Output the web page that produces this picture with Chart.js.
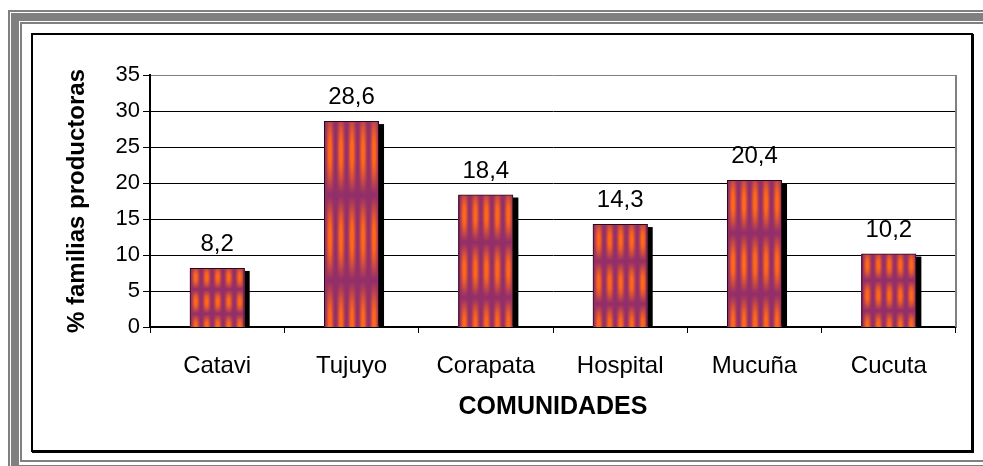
<!DOCTYPE html>
<html>
<head>
<meta charset="utf-8">
<script src="https://cdn.jsdelivr.net/npm/chart.js@4/dist/chart.umd.min.js"></script>
<style>
  html, body { margin: 0; padding: 0; background: #fff; width: 983px; height: 466px; overflow: hidden; }
  .ring { position: absolute; box-sizing: border-box; border-style: solid; border-color: #808080; }
  #r1 { left: 8px;  top: 10px; width: 1200px; height: 466px; border-width: 2px; }
  #r3 { left: 11px; top: 13px; width: 1200px; height: 460px; border-width: 8px; }
  #r5 { left: 20px; top: 22px; width: 1200px; height: 440px; border-width: 2px; }
  #box { position: absolute; left: 31px; top: 33px; width: 942px; height: 419px;
         box-sizing: border-box; border: 2px solid #000; box-shadow: 1px 1px 0 #000; background: #fff; }
  #chart { position: absolute; left: 0; top: 0; }
</style>
</head>
<body>
<div class="ring" id="r1"></div>
<div class="ring" id="r3"></div>
<div class="ring" id="r5"></div>
<div id="box"></div>
<canvas id="chart" width="983" height="466"></canvas>
<script>
// Communities and share of producing families (%)
const categories = ['Catavi', 'Tujuyo', 'Corapata', 'Hospital', 'Mucuña', 'Cucuta'];
const productoras = [8.2, 28.6, 18.4, 14.3, 20.4, 10.2];
const yTicks = [0, 5, 10, 15, 20, 25, 30, 35];

const FONT = "'Liberation Sans', Arial, sans-serif";
const PURPLE = [146, 46, 106];
const ORANGE = [255, 104, 26];

const fmt = v => v.toFixed(1).replace('.', ',');

// Striped orange/purple texture rendered to the size of one bar
function makeTexture(w, h) {
  const c = document.createElement('canvas');
  c.width = Math.max(1, Math.round(w));
  c.height = Math.max(1, Math.round(h));
  const g = c.getContext('2d');
  const img = g.createImageData(c.width, c.height);
  const stripes = 5, periods = 2.4, first = 0.15;
  for (let y = 0; y < c.height; y++) {
    const yn = y / c.height;
    const vy = 0.5 + 0.5 * Math.cos(2 * Math.PI * (yn - first) * periods);
    for (let x = 0; x < c.width; x++) {
      const f = (x / c.width * stripes) % 1;
      const hx = Math.pow(Math.max(0, Math.cos(Math.PI * (f - 0.5))), 2.2);
      let t = hx * Math.pow(vy, 0.55);
      t = Math.min(1, t * 1.1);
      const i = (y * c.width + x) * 4;
      img.data[i]     = PURPLE[0] + (ORANGE[0] - PURPLE[0]) * t;
      img.data[i + 1] = PURPLE[1] + (ORANGE[1] - PURPLE[1]) * t;
      img.data[i + 2] = PURPLE[2] + (ORANGE[2] - PURPLE[2]) * t;
      img.data[i + 3] = 255;
    }
  }
  g.putImageData(img, 0, 0);
  return c;
}

// Drop shadow and textured fill under each bar outline, value labels above
const barFill = {
  id: 'barFill',
  beforeDatasetsDraw(chart) {
    const ctx = chart.ctx;
    const meta = chart.getDatasetMeta(0);
    ctx.save();
    meta.data.forEach(el => {
      const p = el.getProps(['x', 'y', 'base', 'width'], true);
      const left = p.x - p.width / 2;
      const h = p.base - p.y;
      ctx.fillStyle = '#000';
      ctx.fillRect(left + 5, p.y + 3, p.width, h - 3);
      ctx.drawImage(makeTexture(p.width, h), left, p.y, p.width, h);
    });
    ctx.restore();
  },
  afterDatasetsDraw(chart) {
    const ctx = chart.ctx;
    const meta = chart.getDatasetMeta(0);
    const data = chart.data.datasets[0].data;
    ctx.save();
    ctx.fillStyle = '#000';
    ctx.font = '24px ' + FONT;
    ctx.textAlign = 'center';
    ctx.textBaseline = 'alphabetic';
    meta.data.forEach((el, i) => {
      const p = el.getProps(['x', 'y'], true);
      ctx.fillText(fmt(data[i]), p.x, p.y - 17);
    });
    ctx.restore();
  }
};

// Grey right edge of the plot area
const plotEdge = {
  id: 'plotEdge',
  beforeDatasetsDraw(chart) {
    const a = chart.chartArea;
    const ctx = chart.ctx;
    ctx.save();
    ctx.strokeStyle = '#808080';
    ctx.lineWidth = 2;
    ctx.beginPath();
    ctx.moveTo(a.right, a.top);
    ctx.lineTo(a.right, a.bottom);
    ctx.stroke();
    ctx.restore();
  }
};

new Chart(document.getElementById('chart'), {
  type: 'bar',
  data: {
    labels: categories,
    datasets: [{
      data: productoras,
      backgroundColor: 'rgba(0,0,0,0)',
      borderColor: '#2a0a16',
      borderWidth: 1,
      borderSkipped: 'start',
      categoryPercentage: 1,
      barPercentage: 0.41
    }]
  },
  options: {
    responsive: false,
    animation: false,
    devicePixelRatio: 1,
    layout: { padding: { left: 40, top: 75, right: 27, bottom: 26 } },
    plugins: { legend: { display: false }, tooltip: { enabled: false } },
    scales: {
      x: {
        afterFit(s) { s.height = 113; },
        grid: { offset: true, drawOnChartArea: false, drawTicks: true, tickLength: 6, color: '#000', lineWidth: 1 },
        border: { display: true, color: '#000', width: 1.5 },
        ticks: { color: '#000', font: { family: FONT, size: 24 }, padding: 19, maxRotation: 0 },
        title: { display: true, text: 'COMUNIDADES', color: '#000',
                 font: { family: FONT, size: 25, weight: 'bold' }, padding: { top: 0, bottom: 18 } }
      },
      y: {
        min: 0, max: 35,
        afterFit(s) { s.width = 110; },
        afterBuildTicks(s) { s.ticks = yTicks.map(v => ({ value: v })); },
        grid: {
          color: c => (c.tick && c.tick.value === 35 ? '#808080' : '#000'),
          tickColor: '#000', lineWidth: 1, tickLength: 7, drawTicks: true
        },
        border: { display: true, color: '#000', width: 2 },
        ticks: { color: '#000', font: { family: FONT, size: 22 }, padding: 3 },
        title: { display: true, text: '% familias productoras', color: '#000',
                 font: { family: FONT, size: 24, weight: 'bold' }, padding: { top: 23, bottom: 0 } }
      }
    }
  },
  plugins: [barFill, plotEdge]
});
</script>
</body>
</html>
